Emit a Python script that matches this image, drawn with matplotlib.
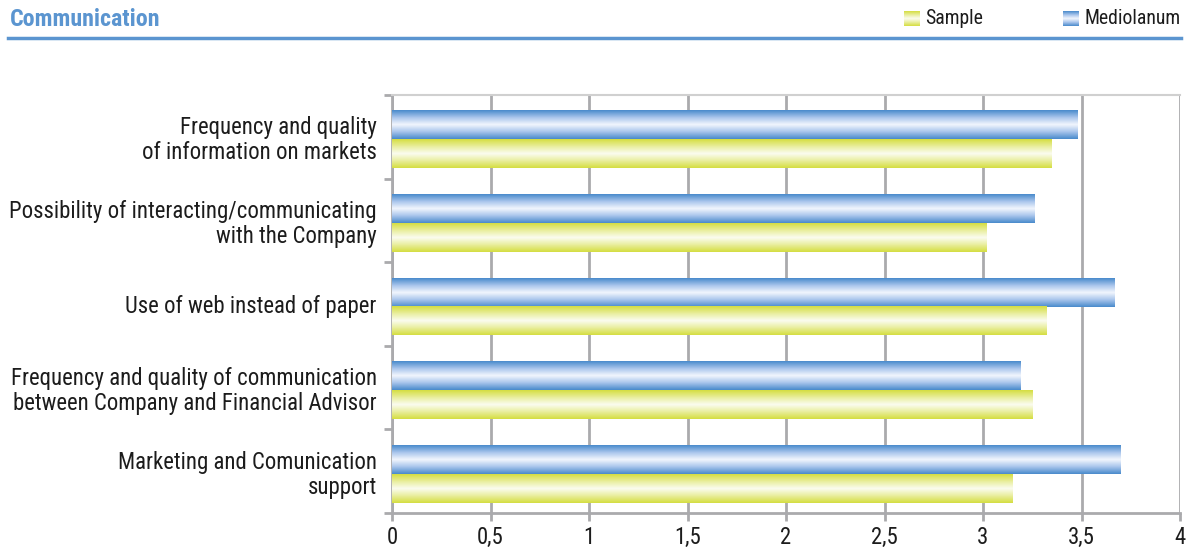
import matplotlib
matplotlib.use('Agg')
import matplotlib.pyplot as plt
import numpy as np
from matplotlib import font_manager
from matplotlib.colors import LinearSegmentedColormap

# --- DATA ---
categories = ['Frequency and quality\nof information on markets',
              'Possibility of interacting/communicating\nwith the Company',
              'Use of web instead of paper',
              'Frequency and quality of communication\nbetween Company and Financial Advisor',
              'Marketing and Comunication\nsupport']
mediolanum = [3.48, 3.26, 3.67, 3.19, 3.70]
sample = [3.35, 3.02, 3.32, 3.25, 3.15]
x_ticks = [0, 0.5, 1, 1.5, 2, 2.5, 3, 3.5, 4]
x_tick_labels = ['0', '0,5', '1', '1,5', '2', '2,5', '3', '3,5', '4']

# narrowest installed sans family
names = {f.name for f in font_manager.fontManager.ttflist}
for fam in ['Roboto Condensed', 'DejaVu Sans Condensed', 'Liberation Sans Narrow',
            'Open Sans Condensed', 'Roboto', 'DejaVu Sans']:
    if fam in names:
        break
plt.rcParams['font.family'] = [fam, 'DejaVu Sans']

BLUE = '#4a8bcc'
YELLOW = '#d5de42'
GRID = '#aaaaad'
TEXT = '#1c1c1c'
blue_cmap = LinearSegmentedColormap.from_list('blue', [BLUE, '#a9c5ec', '#f2f6fd', '#a9c5ec', BLUE])
yellow_cmap = LinearSegmentedColormap.from_list('yellow', [YELLOW, '#e9ee9e', '#fbfcf0', '#e9ee9e', YELLOW])
gradient = np.linspace(0, 1, 64).reshape(-1, 1)

fig = plt.figure(figsize=(11.91, 5.49), dpi=100)
renderer = fig.canvas.get_renderer()


def fit_size(text, width_px, weight='normal', start=15):
    # font size at which text spans width_px
    t = fig.text(0, 0, text, fontsize=start, fontweight=weight)
    w = t.get_window_extent(renderer).width
    t.remove()
    return start * width_px / w


label_size = min(17, fit_size('Possibility of interacting/communicating', 366))
legend_size = min(16, fit_size('Mediolanum', 97))
title_size = min(18, fit_size('Communication', 150, weight='bold', start=18))

ax = fig.add_axes([392 / 1191, 1 - 513 / 549, 788 / 1191, (513 - 95) / 549])

y = np.arange(len(categories))
h = 0.345
bars_m = ax.barh(y - h / 2 + 0.03, mediolanum, height=h, color='none', zorder=3)
bars_s = ax.barh(y + h / 2 + 0.03, sample, height=h, color='none', zorder=3)

# fill each bar with a vertical gradient
for bars, cmap in [(bars_m, blue_cmap), (bars_s, yellow_cmap)]:
    for b in bars:
        x0, y0 = b.get_x(), b.get_y()
        ax.imshow(gradient, cmap=cmap, aspect='auto', interpolation='bilinear',
                  extent=[x0, x0 + b.get_width(), y0 + b.get_height(), y0], zorder=3)

ax.set_xlim(0, 4)
ax.set_ylim(len(categories) - 0.5, -0.5)
ax.set_xticks(x_ticks)
ax.set_xticklabels(x_tick_labels, fontsize=label_size, color=TEXT)
ax.set_yticks(y)
ax.set_yticklabels(categories, fontsize=label_size, color=TEXT, linespacing=1.1)
ax.set_yticks(np.arange(len(categories) + 1) - 0.5, minor=True)
ax.tick_params(axis='y', which='major', length=0, pad=11)
ax.tick_params(axis='y', which='minor', length=6, width=2, color=GRID)
ax.tick_params(axis='x', length=6, width=2, color=GRID, pad=3)
ax.grid(axis='x', color=GRID, linewidth=2, zorder=1)
for side in ['left', 'bottom']:
    ax.spines[side].set_color(GRID)
    ax.spines[side].set_linewidth(2)
ax.spines['right'].set_visible(False)
ax.spines['top'].set_color('#d0d0d0')
ax.spines['top'].set_linewidth(1.5)

# header: title, rule and legend
fig.text(10 / 1191, 1 - 19 / 549, 'Communication', fontsize=title_size, fontweight='bold',
         color='#5b95d0', va='center', ha='left')
fig.add_artist(plt.Line2D([8 / 1191, 1181 / 1191], [1 - 38 / 549] * 2, color='#5b95d0', linewidth=2.5))
for x_px, cmap, label in [(904, yellow_cmap, 'Sample'), (1063, blue_cmap, 'Mediolanum')]:
    sw = fig.add_axes([x_px / 1191, 1 - 26 / 549, 16 / 1191, 15 / 549])
    sw.imshow(gradient, cmap=cmap, aspect='auto', interpolation='bilinear')
    sw.axis('off')
    fig.text((x_px + 21) / 1191, 1 - 19 / 549, label, fontsize=legend_size, color=TEXT,
             va='center', ha='left')

fig.savefig('out.png', dpi=100)
